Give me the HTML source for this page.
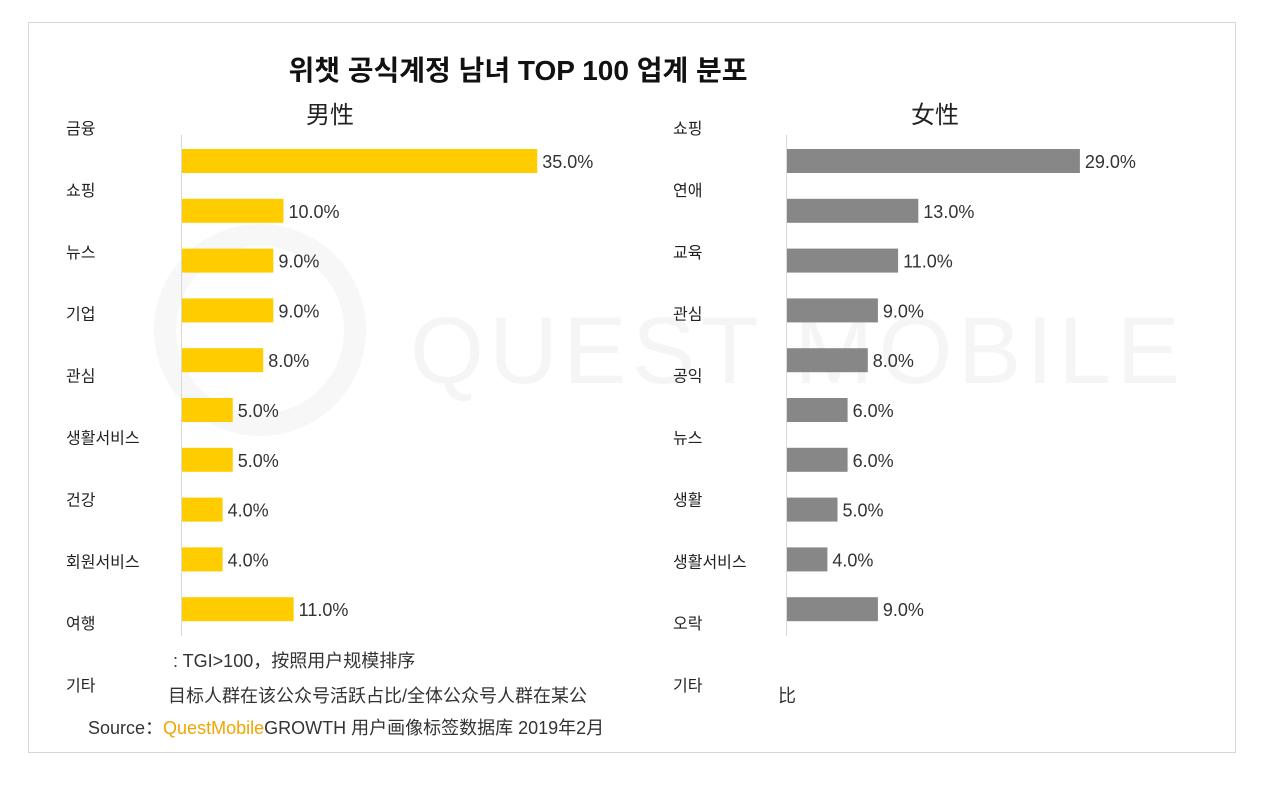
<!DOCTYPE html>
<html><head><meta charset="utf-8"><style>
body{margin:0;background:#fff;width:1280px;height:785px;overflow:hidden;font-family:"Liberation Sans","Noto Sans CJK KR",sans-serif}
</style></head><body>
<svg id="c" width="1280" height="785" xmlns="http://www.w3.org/2000/svg">
<rect x="28.5" y="22.5" width="1207" height="730" fill="#fff" stroke="#d6d6d6"/>
<circle cx="260" cy="330" r="95" fill="none" stroke="#f7f7f7" stroke-width="22"/>
<text x="410" y="383" font-size="95" fill="#f5f5f5" font-family="Liberation Sans, sans-serif" textLength="770" lengthAdjust="spacing">QUEST MOBILE</text>
<text x="518" y="80" font-size="28" font-weight="bold" text-anchor="middle" fill="#111" font-family="Liberation Sans, Noto Sans CJK KR, sans-serif">위챗 공식계정 남녀 TOP 100 업계 분포</text>
<text x="330" y="123" font-size="24" text-anchor="middle" fill="#222" font-family="Liberation Sans, Noto Sans CJK SC, sans-serif">男性</text>
<text x="935" y="123" font-size="24" text-anchor="middle" fill="#222" font-family="Liberation Sans, Noto Sans CJK SC, sans-serif">女性</text>
<line x1="181.5" y1="135" x2="181.5" y2="636" stroke="#d9d9d9"/>
<line x1="786.5" y1="135" x2="786.5" y2="636" stroke="#d9d9d9"/>
<g id="marks"></g>
<g font-family="Liberation Sans, Noto Sans CJK SC, sans-serif" font-size="18" fill="#333">
<text x="173" y="667">: TGI&gt;100，按照用户规模排序</text>
<text x="168" y="702">目标人群在该公众号活跃占比/全体公众号人群在某公</text>
<text x="778" y="702">比</text>
<text x="88" y="734">Source：<tspan fill="#f0a500">QuestMobile</tspan>GROWTH 用户画像标签数据库  2019年2月</text>
</g>
</svg>
<script>
const maleCats=["금융","쇼핑","뉴스","기업","관심","생활서비스","건강","회원서비스","여행","기타"];
const femaleCats=["쇼핑","연애","교육","관심","공익","뉴스","생활","생활서비스","오락","기타"];
const maleVals=[35,10,9,9,8,5,5,4,4,11];
const femaleVals=[29,13,11,9,8,6,6,5,4,9];
const NS="http://www.w3.org/2000/svg";
const g=document.getElementById('marks');
function mk(t,a){const e=document.createElementNS(NS,t);for(const k in a)e.setAttribute(k,a[k]);g.appendChild(e);return e;}
const barY=i=>161+i*49.8;
const labY=i=>134+i*61.9;
function panel(cats,vals,x0,scale,color,labX,pfx){
  cats.forEach((c,i)=>{
    const t=mk('text',{x:labX,y:labY(i),'font-size':16,fill:'#222','font-family':'Liberation Sans, Noto Sans CJK KR, sans-serif'});
    t.textContent=c;
    
    
  });
  vals.forEach((v,i)=>{
    const w=v*scale;
    const r=mk('rect',{x:x0,y:barY(i)-12,width:w,height:24,fill:color});
    
    
    const t=mk('text',{x:x0+w+5,y:barY(i)+7,'font-size':18,fill:'#333'});
    t.textContent=v.toFixed(1)+'%';
    
    
  });
}
panel(maleCats,maleVals,182,10.15,'#ffcc00',66,'male');
panel(femaleCats,femaleVals,787,10.1,'#878787',673,'female');
</script>
</body></html>
